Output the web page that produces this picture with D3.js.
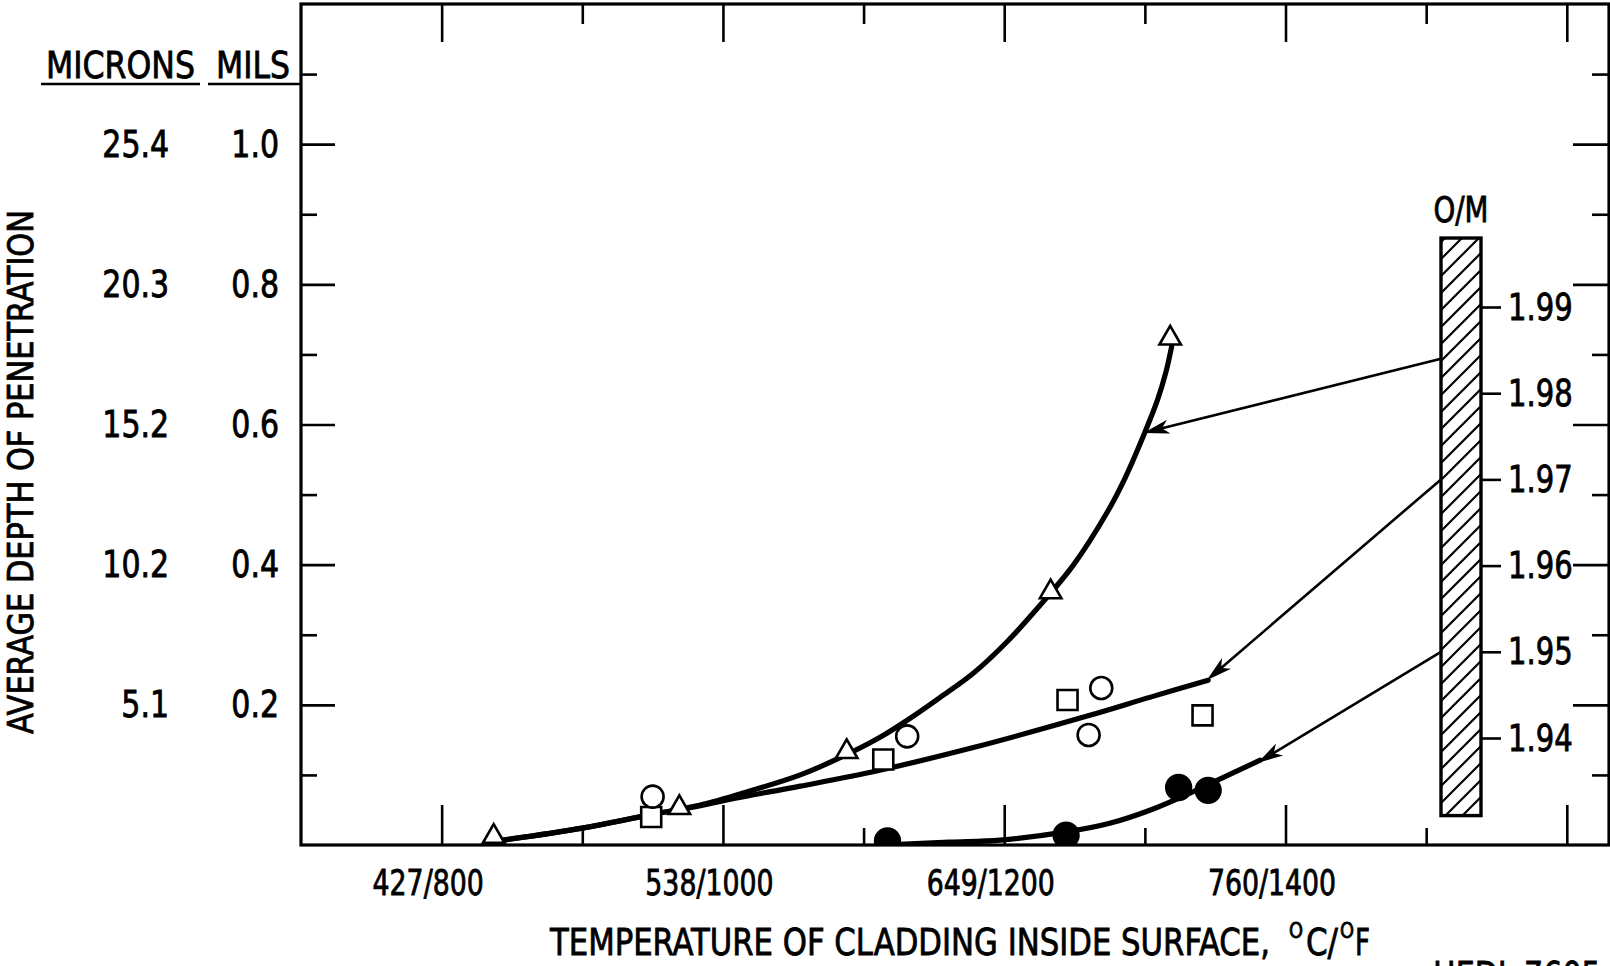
<!DOCTYPE html>
<html>
<head>
<meta charset="utf-8">
<script src="https://cdn.jsdelivr.net/npm/d3@7"></script>
<style>
body { margin: 0; background: #fff; }
svg text { font-family: "Liberation Sans Narrow", "DejaVu Sans Condensed", sans-serif; fill: #000; stroke: #000; stroke-width: 0.8px; }
</style>
</head>
<body>
<script>
const w = 1610, h = 966;

// x in degrees F, y in mils
const tempMajor = [800, 1000, 1200, 1400, 1600];
const tempMinor = [900, 1100, 1300, 1500];
const tempLabelVals = [800, 1000, 1200, 1400];
const tempLabels = ["427/800", "538/1000", "649/1200", "760/1400"];
const milsMajor = [0.2, 0.4, 0.6, 0.8, 1.0];
const milsMinor = [0.1, 0.3, 0.5, 0.7, 0.9, 1.1];
const milsLabels = ["0.2", "0.4", "0.6", "0.8", "1.0"];
const micronLabels = ["5.1", "10.2", "15.2", "20.3", "25.4"];
const omTicks = [1.99, 1.98, 1.97, 1.96, 1.95, 1.94];
const omBar = [1.931, 1.998];

// [temp F, mils]
const triangles = [[837, 0.012], [969, 0.053], [1088, 0.133], [1233, 0.361], [1318, 0.723]];
const openCircles = [[950, 0.069], [1131, 0.155], [1269, 0.224], [1260, 0.157]];
const squares = [[949, 0.040], [1114, 0.122], [1245, 0.207], [1341, 0.185]];
const filledCircles = [[1117, 0.006], [1244, 0.014], [1324, 0.082], [1345, 0.078]];

// hand-drawn fits
const curveA = [[844, 0.007], [900, 0.024], [948, 0.043], [984, 0.057], [1019, 0.077],
    [1055, 0.100], [1090, 0.131], [1112, 0.154], [1131, 0.178], [1154, 0.210],
    [1178, 0.245], [1202, 0.290], [1225, 0.341], [1249, 0.399], [1273, 0.474],
    [1286, 0.524], [1299, 0.584], [1309, 0.635], [1315, 0.675], [1319, 0.711]];
const curveB = [[844, 0.007], [900, 0.024], [948, 0.043], [984, 0.056], [1007, 0.066],
    [1055, 0.084], [1110, 0.106], [1178, 0.139], [1259, 0.184], [1304, 0.211], [1345, 0.235]];
const curveC = [[1114, 0.0], [1161, 0.004], [1197, 0.007], [1245, 0.019], [1275, 0.031],
    [1304, 0.050], [1332, 0.074], [1351, 0.092], [1382, 0.121]];

// arrows: [O/M value at bar, temp F, mils]
const arrows = [[1.984, 1299, 0.588], [1.97, 1344, 0.235], [1.95, 1380, 0.117]];

const pLeft = 301, pRight = 1609, pTop = 4, pBottom = 845;
const barX = 1441, barW = 40;

const x = d3.scaleLinear().domain([700, 1630]).range([pLeft, pRight]);
const y = d3.scaleLinear().domain([0, 1.2]).range([pBottom, pTop]);
const om = d3.scaleLinear().domain([1.94, 1.99]).range([738, 307]);

const svg = d3.select("body").append("svg")
    .attr("width", w)
    .attr("height", h);

// squeeze text to the narrow typewriter face of the original
function squeeze(sel, f) {
    sel.each(function () {
        const len = this.getComputedTextLength();
        d3.select(this).attr("textLength", len * f).attr("lengthAdjust", "spacingAndGlyphs");
    });
}

const defs = svg.append("defs");
defs.append("clipPath").attr("id", "plotClip")
    .append("rect").attr("x", pLeft).attr("y", pTop)
    .attr("width", pRight - pLeft).attr("height", pBottom - pTop);
const hatch = defs.append("pattern").attr("id", "hatch")
    .attr("patternUnits", "userSpaceOnUse")
    .attr("width", 17).attr("height", 17);
hatch.append("path")
    .attr("d", "M-2,19 L19,-2 M-4,4 L4,-4 M13,21 L21,13")
    .attr("stroke", "#000").attr("stroke-width", 2.2);

// ticks only
function ticks(axis, tx, ty, vals, size) {
    const g = svg.append("g")
        .attr("transform", "translate(" + tx + "," + ty + ")")
        .call(axis.tickValues(vals).tickSize(size).tickFormat(""));
    g.select(".domain").remove();
    g.selectAll("line").attr("stroke", "#000").attr("stroke-width", 2.6);
}
ticks(d3.axisRight(y), pLeft, 0, milsMajor, 34);
ticks(d3.axisRight(y), pLeft, 0, milsMinor, 16);
ticks(d3.axisLeft(y), pRight, 0, milsMajor, 36);
ticks(d3.axisLeft(y), pRight, 0, milsMinor, 17);
ticks(d3.axisTop(x), 0, pBottom, tempMajor, 40);
ticks(d3.axisTop(x), 0, pBottom, tempMinor, 17);
ticks(d3.axisBottom(x), 0, pTop, tempMajor, 38);
ticks(d3.axisBottom(x), 0, pTop, tempMinor, 20);

// frame
svg.append("rect")
    .attr("x", pLeft).attr("y", pTop)
    .attr("width", pRight - pLeft).attr("height", pBottom - pTop)
    .attr("fill", "none").attr("stroke", "#000").attr("stroke-width", 3.2);

// tick labels through axes
function labels(axis, tx, ty, vals, names, pad, size, f) {
    const g = svg.append("g")
        .attr("transform", "translate(" + tx + "," + ty + ")")
        .call(axis.tickValues(vals).tickSize(0).tickPadding(pad)
            .tickFormat((d, i) => names[i]));
    g.select(".domain").remove();
    g.attr("font-family", null).attr("font-size", null);
    g.selectAll("text").style("font-size", size + "px");
    squeeze(g.selectAll("text"), f);
    return g;
}
labels(d3.axisLeft(y), pLeft, 0, milsMajor, milsLabels, 22, 37, 0.9);
labels(d3.axisLeft(y), pLeft, 0, milsMajor, micronLabels, 132, 37, 0.9);
labels(d3.axisBottom(x), 0, pBottom, tempLabelVals, tempLabels, 25, 35, 0.85)
    .selectAll("text").attr("dx", -14);

// column headers
svg.append("text").attr("x", 195).attr("y", 78).attr("text-anchor", "end")
    .attr("textLength", 149).attr("lengthAdjust", "spacingAndGlyphs")
    .style("font-size", "38px").text("MICRONS");
svg.append("text").attr("x", 290).attr("y", 78).attr("text-anchor", "end")
    .attr("textLength", 74).attr("lengthAdjust", "spacingAndGlyphs")
    .style("font-size", "38px").text("MILS");
svg.append("line").attr("x1", 41).attr("x2", 200).attr("y1", 84).attr("y2", 84)
    .attr("stroke", "#000").attr("stroke-width", 2.6);
svg.append("line").attr("x1", 208).attr("x2", 301).attr("y1", 84).attr("y2", 84)
    .attr("stroke", "#000").attr("stroke-width", 2.6);

// axis titles
svg.append("text")
    .attr("transform", "translate(33,472) rotate(-90)")
    .attr("text-anchor", "middle")
    .attr("textLength", 524).attr("lengthAdjust", "spacingAndGlyphs")
    .style("font-size", "36px")
    .text("AVERAGE DEPTH OF PENETRATION");

const xt = svg.append("text").attr("x", 550).attr("y", 955).style("font-size", "38px");
xt.append("tspan").attr("textLength", 720).attr("lengthAdjust", "spacingAndGlyphs")
    .text("TEMPERATURE OF CLADDING INSIDE SURFACE,");
xt.append("tspan").attr("x", 1289).attr("dy", -17).style("font-size", "22px")
    .attr("textLength", 14).attr("lengthAdjust", "spacingAndGlyphs").text("O");
xt.append("tspan").attr("x", 1306).attr("dy", 17)
    .attr("textLength", 32).attr("lengthAdjust", "spacingAndGlyphs").text("C/");
xt.append("tspan").attr("x", 1340).attr("dy", -17).style("font-size", "22px")
    .attr("textLength", 14).attr("lengthAdjust", "spacingAndGlyphs").text("O");
xt.append("tspan").attr("x", 1355).attr("dy", 17)
    .attr("textLength", 15).attr("lengthAdjust", "spacingAndGlyphs").text("F");

const ref = svg.append("text").attr("x", 1433).attr("y", 988).style("font-size", "38px")
    .text("HEDL 7605-14");
squeeze(ref, 0.88);

// fitted curves
const line = d3.line()
    .x(d => x(d[0]))
    .y(d => y(d[1]))
    .curve(d3.curveCatmullRom.alpha(0.5));
const plot = svg.append("g").attr("clip-path", "url(#plotClip)");
[curveA, curveB, curveC].forEach(c => {
    plot.append("path")
        .attr("d", line(c))
        .attr("fill", "none")
        .attr("stroke", "#000")
        .attr("stroke-width", 5.2)
        .attr("stroke-linecap", "round");
});

// markers
function markers(data, type, size, fill) {
    plot.selectAll(null)
        .data(data)
        .enter()
        .append("path")
        .attr("d", d3.symbol().type(type).size(size))
        .attr("transform", d => "translate(" + x(d[0]) + "," + y(d[1]) + ")")
        .attr("fill", fill)
        .attr("stroke", "#000")
        .attr("stroke-width", 2.6);
}
markers(triangles, d3.symbolTriangle, 200, "#fff");
markers(squares, d3.symbolSquare, 400, "#fff");
markers(openCircles, d3.symbolCircle, 380, "#fff");
markers(filledCircles, d3.symbolCircle, 480, "#000");

// arrows from O/M bar
arrows.forEach(a => {
    const x1 = barX, y1 = om(a[0]);
    const x2 = x(a[1]), y2 = y(a[2]);
    const ang = Math.atan2(y2 - y1, x2 - x1);
    svg.append("line")
        .attr("x1", x1).attr("y1", y1)
        .attr("x2", x2 - 14 * Math.cos(ang)).attr("y2", y2 - 14 * Math.sin(ang))
        .attr("stroke", "#000").attr("stroke-width", 2.6);
    svg.append("path")
        .attr("d", "M0,0 L-26,-7 L-19,0 L-26,7 Z")
        .attr("transform", "translate(" + x2 + "," + y2 + ") rotate(" + (ang * 180 / Math.PI) + ")")
        .attr("fill", "#000");
});

// O/M bar
svg.append("rect")
    .attr("x", barX).attr("y", om(omBar[1]))
    .attr("width", barW).attr("height", om(omBar[0]) - om(omBar[1]))
    .attr("fill", "url(#hatch)")
    .attr("stroke", "#000").attr("stroke-width", 3.4);
const omAxis = svg.append("g")
    .attr("transform", "translate(" + (barX + barW) + ",0)")
    .call(d3.axisRight(om).tickValues(omTicks).tickSize(20).tickPadding(7)
        .tickFormat(d3.format(".2f")));
omAxis.select(".domain").remove();
omAxis.attr("font-family", null).attr("font-size", null);
omAxis.selectAll("line").attr("stroke", "#000").attr("stroke-width", 2.6);
omAxis.selectAll("text").style("font-size", "38px");
squeeze(omAxis.selectAll("text"), 0.85);
svg.append("text").attr("x", barX + barW / 2).attr("y", 222)
    .attr("text-anchor", "middle")
    .attr("textLength", 55).attr("lengthAdjust", "spacingAndGlyphs")
    .style("font-size", "36px").text("O/M");
</script>
</body>
</html>
